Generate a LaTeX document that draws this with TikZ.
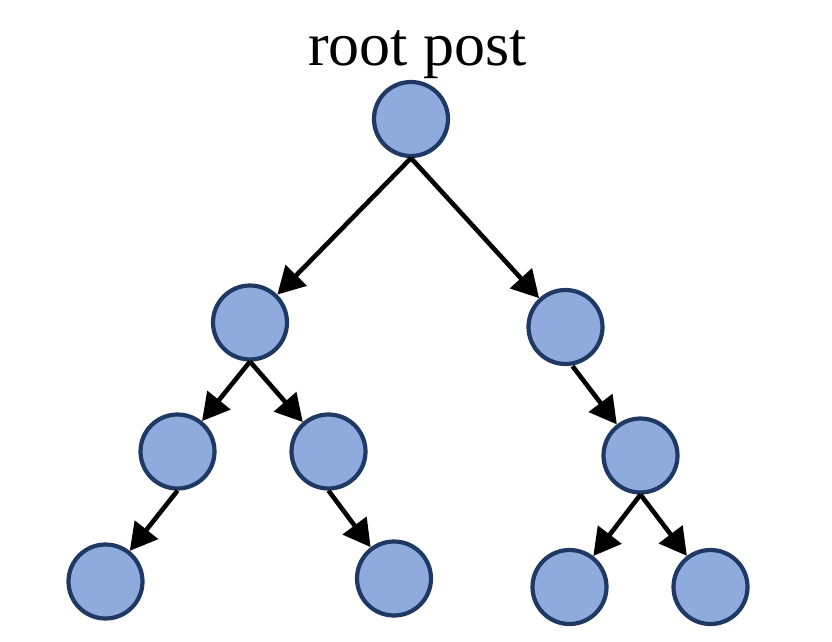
\documentclass[tikz,border=0pt]{standalone}
\usepackage{fontspec}
\setmainfont{Liberation Serif}
\usetikzlibrary{arrows.meta}
\definecolor{nodefill}{HTML}{8FAADC}
\definecolor{nodeline}{HTML}{1F3864}
\begin{document}
\begin{tikzpicture}[x=1pt,y=-1pt,
  post/.style={circle,draw=nodeline,fill=nodefill,line width=4.2pt,minimum size=74pt,inner sep=0pt},
  edge/.style={line width=4.6pt,-{Triangle[length=27pt,width=29pt]}}]
\useasboundingbox (0,0) rectangle (832,642);
\node[font=\fontsize{62}{72}\selectfont,anchor=base,inner sep=0pt] (title) at (417.5,66) {root post};
\node[post] (r) at (411,119) {};
\node[post] (a) at (250,322.5) {};
\node[post] (b) at (565.5,327) {};
\node[post] (aa) at (177.5,451.5) {};
\node[post] (ab) at (328.5,451.5) {};
\node[post] (ba) at (640.5,455.5) {};
\node[post] (aaa) at (105.5,581.5) {};
\node[post] (aba) at (394,578.5) {};
\node[post] (baa) at (569.5,587) {};
\node[post] (bab) at (710.5,587) {};
\draw[edge] (r.south) -- (a);
\draw[edge] (r.south) -- (b);
\draw[edge] (a.south) -- (aa);
\draw[edge] (a.south) -- (ab);
\draw[edge] ([xshift=7pt]b.south) -- (ba);
\draw[edge] (aa.south) -- (aaa);
\draw[edge] (ab.south) -- (aba);
\draw[edge] (ba.south) -- (baa);
\draw[edge] (ba.south) -- (bab);
\end{tikzpicture}
\end{document}
